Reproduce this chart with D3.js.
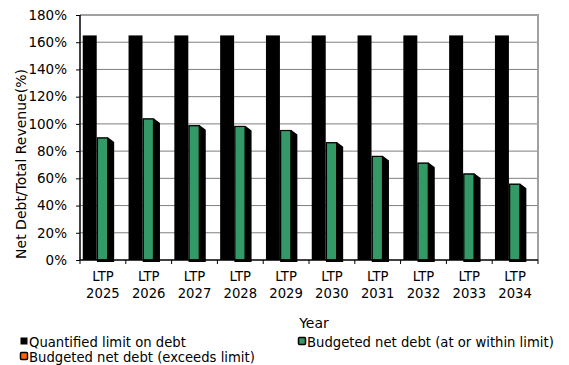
<!DOCTYPE html>
<html><head><meta charset="utf-8">
<script src="https://cdn.jsdelivr.net/npm/d3@7"></script>
<style>
html,body{margin:0;padding:0;background:#fff;}
text{font-family:"DejaVu Sans",Verdana,sans-serif;fill:#000;}
</style></head>
<body><svg id="c" width="569" height="365"></svg>
<script>
const categories = ["LTP 2025","LTP 2026","LTP 2027","LTP 2028","LTP 2029","LTP 2030","LTP 2031","LTP 2032","LTP 2033","LTP 2034"];
const limitValues = [165,165,165,165,165,165,165,165,165,165];
const withinValues = [90,104,99,98.5,95.5,86.5,76.5,71.5,63.5,56];
const exceedsValues = [0,0,0,0,0,0,0,0,0,0];
const yTicks = [0,20,40,60,80,100,120,140,160,180];
const seriesNames = ["Quantified limit on debt","Budgeted net debt (at or within limit)","Budgeted net debt (exceeds limit)"];
const colors = ["#000000","#339966","#FF6600"];

const svg = d3.select("#c");
const L = 80, R = 538, T = 15, B = 260;
const x = d3.scaleBand().domain(categories).range([L, R]).padding(0);
const y = d3.scaleLinear().domain([0,180]).range([B, T]);
const bw = x.bandwidth();

// gridlines
svg.append("g").selectAll("line").data(yTicks.filter(d => d > 0 && d < 180)).join("line")
  .attr("x1", L).attr("x2", R).attr("y1", d => y(d)).attr("y2", d => y(d))
  .attr("stroke", "#7f7f7f").attr("stroke-width", 1);
// top & right border
svg.append("line").attr("x1", L).attr("x2", R + 1).attr("y1", y(180)).attr("y2", y(180))
  .attr("stroke", "#a0a0a0").attr("stroke-width", 2);
svg.append("line").attr("x1", R).attr("x2", R).attr("y1", y(180)).attr("y2", B)
  .attr("stroke", "#a0a0a0").attr("stroke-width", 2);

// limit bars
const bx0 = 0.06 * bw, bwid = 0.305 * bw;
svg.append("g").selectAll("rect").data(categories).join("rect")
  .attr("x", (d) => x(d) + bx0).attr("width", bwid)
  .attr("y", (d, i) => y(limitValues[i])).attr("height", (d, i) => B - y(limitValues[i]))
  .attr("fill", colors[0]);

// within bars with shadow
const gx0 = 0.37 * bw, gw = 0.245 * bw, dx = 6, dy = 4.5;
const gg = svg.append("g");
categories.forEach((c, i) => {
  const x0 = x(c) + gx0, x1 = x0 + gw, y0 = y(withinValues[i]);
  gg.append("polygon")
    .attr("points", [[x0, y0], [x1, y0], [x1 + dx, y0 + dy], [x1 + dx, B + 2], [x0, B + 2]].map(p => p.join(",")).join(" "))
    .attr("fill", "#000");
  gg.append("rect").attr("x", x0 + 0.5).attr("y", y0 + 0.5).attr("width", gw - 1).attr("height", B - y0 - 0.5)
    .attr("fill", colors[1]).attr("stroke", "#000").attr("stroke-width", 1.2);
});

// axes
const yAxis = svg.append("g").attr("transform", `translate(${L},0)`)
  .call(d3.axisLeft(y).tickValues(yTicks).tickFormat(d => d + "%").tickSize(4).tickPadding(9));
yAxis.select(".domain").attr("stroke", "#000").attr("stroke-width", 1.5).attr("d", `M0,${T}V${B}`);
yAxis.selectAll("text").attr("font-size", 13.5).style("font-family", '"DejaVu Sans",Verdana,sans-serif');

const xAxis = svg.append("g").attr("transform", `translate(0,${B})`);
xAxis.append("line").attr("x1", L).attr("x2", R).attr("y1", 0).attr("y2", 0).attr("stroke", "#000").attr("stroke-width", 1.5);
xAxis.selectAll("line.tk").data(categories.concat(["end"])).join("line").attr("class", "tk")
  .attr("x1", (d, i) => L + i * bw).attr("x2", (d, i) => L + i * bw).attr("y1", 0).attr("y2", 4)
  .attr("stroke", "#000");
const lab = xAxis.selectAll("text.xl").data(categories).join("text").attr("class", "xl")
  .attr("x", d => x(d) + bw / 2).attr("text-anchor", "middle").attr("font-size", 13.2);
lab.append("tspan").attr("x", d => x(d) + bw / 2).attr("y", 21).text(d => d.split(" ")[0]);
lab.append("tspan").attr("x", d => x(d) + bw / 2).attr("y", 38).text(d => d.split(" ")[1]);

// axis titles
svg.append("text").attr("transform", `translate(26,164) rotate(-90)`)
  .attr("text-anchor", "middle").attr("font-size", 14).text("Net Debt/Total Revenue(%)");
svg.append("text").attr("x", 314).attr("y", 328).attr("text-anchor", "middle").attr("font-size", 14).text("Year");

// legend
const legendPos = [[20, 342], [298, 342], [20, 357]];
seriesNames.forEach((n, i) => {
  const [lx, ly] = legendPos[i];
  svg.append("rect").attr("x", lx + 0.5).attr("y", ly - 4.5).attr("width", 7).attr("height", 7)
    .attr("fill", colors[i]).attr("stroke", "#000").attr("stroke-width", i === 0 ? 0 : 1.5).attr("rx", i === 0 ? 0 : 1);
  svg.append("text").attr("x", lx + 9).attr("y", ly + 4.5).attr("font-size", 13.2).text(n);
});
</script></body></html>
